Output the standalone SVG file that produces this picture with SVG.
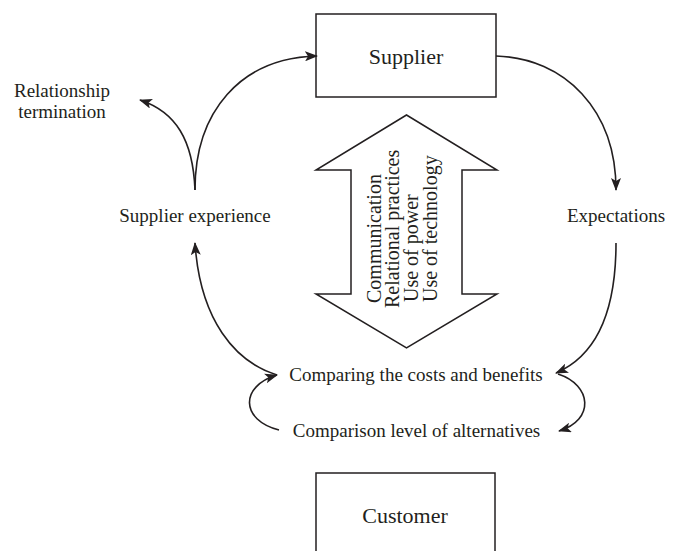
<svg xmlns="http://www.w3.org/2000/svg" width="680" height="551" viewBox="0 0 680 551">
  <defs>
    <style>
      .lbl { font-family: "Liberation Serif", "Times New Roman", serif; font-size: 19px; fill: #231f20; }
      .big { font-size: 22px; }
      .vert { font-size: 20px; }
      .box { fill: #ffffff; stroke: #231f20; stroke-width: 1.5; }
      .edge { fill: none; stroke: #231f20; stroke-width: 1.6; marker-end: url(#head); }
    </style>
    <marker id="head" viewBox="0 0 13 10" refX="12" refY="5" markerWidth="13" markerHeight="10" markerUnits="userSpaceOnUse" orient="auto">
      <path d="M0,0 L13,5 L0,10 L3,5 z" fill="#231f20"/>
    </marker>
  </defs>
  <rect width="680" height="551" fill="#ffffff"/>

  <!-- nodes -->
  <g id="supplier">
    <rect class="box" x="316" y="14" width="180" height="83"/>
    <text class="lbl big" x="406" y="64" text-anchor="middle">Supplier</text>
  </g>
  <g id="customer">
    <rect class="box" x="316" y="473" width="179" height="100"/>
    <text class="lbl big" x="405" y="523" text-anchor="middle">Customer</text>
  </g>
  <g id="relationship-termination">
    <text class="lbl" x="62" y="97" text-anchor="middle">Relationship</text>
    <text class="lbl" x="62" y="118" text-anchor="middle">termination</text>
  </g>
  <g id="supplier-experience">
    <text class="lbl" x="195" y="222" text-anchor="middle">Supplier experience</text>
  </g>
  <g id="expectations">
    <text class="lbl" x="616" y="222" text-anchor="middle">Expectations</text>
  </g>
  <g id="comparing">
    <text class="lbl" x="416" y="381" text-anchor="middle">Comparing the costs and benefits</text>
  </g>
  <g id="comparison-level">
    <text class="lbl" x="416.5" y="437" text-anchor="middle">Comparison level of alternatives</text>
  </g>
  <g id="interaction">
    <polygon class="box" points="406.5,115 497,170 462,170 462,294 497,294 406.5,348 316,294 351,294 351,170 316,170"/>
    <text class="lbl vert" transform="translate(381,303) rotate(-90)">Communication</text>
    <text class="lbl vert" transform="translate(399,308) rotate(-90)">Relational practices</text>
    <text class="lbl vert" transform="translate(418,302) rotate(-90)">Use of power</text>
    <text class="lbl vert" transform="translate(437,302) rotate(-90)">Use of technology</text>
  </g>

  <!-- connectors -->
  <g id="connectors">
    <path class="edge" d="M195,190 C195,112 240,58 317,56"/>
    <path class="edge" d="M195,190 C193,140 176,112 140,100"/>
    <path class="edge" d="M496,56 C565,58 616,110 616,190"/>
    <path class="edge" d="M616,243 C616,310 598,355 556,373"/>
    <path class="edge" d="M558,374 C592,385 595,420 559,431"/>
    <path class="edge" d="M279,430 C240,420 240,386 277,375"/>
    <path class="edge" d="M277,375 C235,362 200,320 195,243"/>
  </g>
</svg>
